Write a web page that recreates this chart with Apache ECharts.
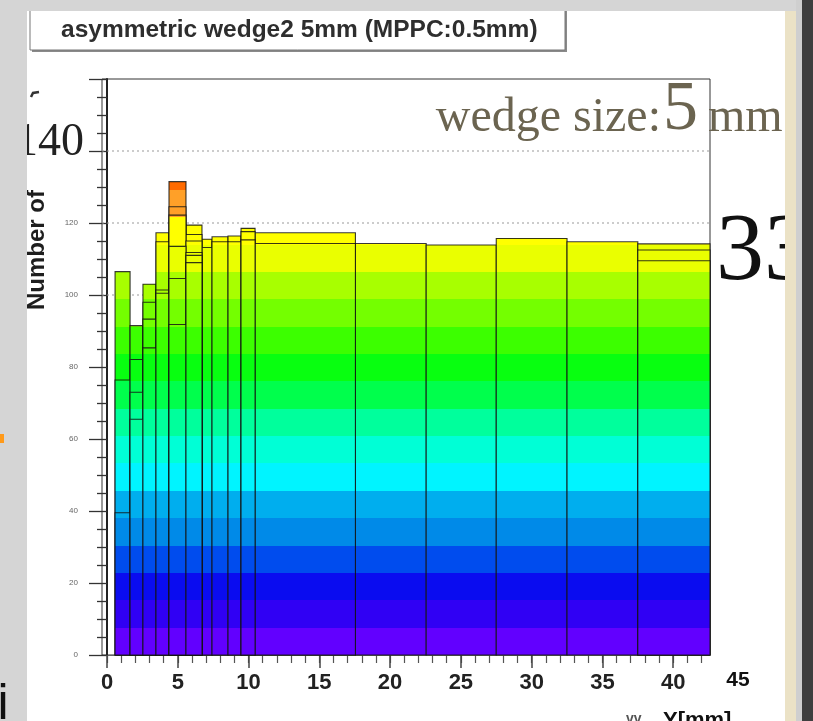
<!DOCTYPE html>
<html>
<head>
<meta charset="utf-8">
<script src="https://cdn.jsdelivr.net/npm/echarts@6/dist/echarts.min.js"></script>
<style>html,body{margin:0;padding:0;background:#fff;}#c{width:813px;height:721px;}</style>
</head>
<body>
<div id="c"></div>
<script>
// ---- data ----
const binLo = [0.57, 1.63, 2.54, 3.46, 4.38, 5.58, 6.71, 7.42, 8.55, 9.47, 10.46, 17.55, 22.55, 27.5, 32.5, 37.5];
const binHi = [1.63, 2.54, 3.46, 4.38, 5.58, 6.71, 7.42, 8.55, 9.47, 10.46, 17.55, 22.55, 27.5, 32.5, 37.5, 42.6];
const histA = [106.5, 91.5, 103, 117.3, 131.5, 119.4, 115.5, 116.2, 116.4, 118.5, 117.3, 114.3, 113.9, 115.7, 114.8, 114.2];
const histB = [76.4, 82.1, 98, 114.8, 124.5, 116.8, 113.2, 114.8, 114.8, 117.6, 114.3, null, null, null, null, 112.5];
const histC = [39.5, 73, 93.3, 101.4, 122.2, 115, null, null, null, 115.3, null, null, null, null, null, 109.5];
const histD = [null, 65.5, 85.3, 100.5, 113.5, 111.8, null, null, null, null, null, null, null, null, null, null];
const histE = [null, null, null, null, 104.6, 111, null, null, null, null, null, null, null, null, null, null];
const histF = [null, null, null, null, 91.8, 109, null, null, null, null, null, null, null, null, null, null];
const xMajorTicks = [0, 5, 10, 15, 20, 25, 30, 35, 40];
const xMinorTicks = [0,1,2,3,4,5,6,7,8,9,10,11,12,13,14,15,16,17,18,19,20,21,22,23,24,25,26,27,28,29,30,31,32,33,34,35,36,37,38,39,40,41,42];
const gridValues = [100, 120, 140];
const titleText = 'asymmetric wedge2 5mm (MPPC:0.5mm)';
const yTitle = 'Number of';

// ---- palette (colour bands in y) ----
const bandStep = 7.6;
const bandColors = ['#6200ff','#3000f4','#0a0cf0','#004cee','#008ae8','#00aeee','#00f4ff','#00ffd6',
  '#00ff9c','#00ff4c','#08ff10','#3cff00','#74ff00','#a8ff00','#eaff00','#ffff00','#ffa028','#ff6a00'];

const xMin = -0.353, xMax = 42.6;
const layers = [histA, histB, histC, histD, histE, histF];

function barRender(params, api) {
  const lo = api.value(0), hi = api.value(1), v = api.value(2);
  const children = [];
  for (let i = 0; i < bandColors.length; i++) {
    const e0 = i * bandStep, e1 = (i + 1) * bandStep;
    if (e0 >= v) break;
    const top = Math.min(e1, v);
    const a = api.coord([lo, e0]), b = api.coord([hi, top]);
    const y0 = Math.round(a[1]), y1 = Math.round(b[1]);
    children.push({type: 'rect', silent: true,
      shape: {x: a[0], y: y1, width: b[0] - a[0], height: y0 - y1},
      style: {fill: bandColors[i]}});
  }
  const p0 = api.coord([lo, 0]), p1 = api.coord([hi, v]);
  children.push({type: 'rect', silent: true,
    shape: {x: p0[0], y: p1[1], width: p1[0] - p0[0], height: p0[1] - p1[1]},
    style: {fill: null, stroke: 'rgba(20,20,20,0.85)', lineWidth: 1.1}});
  return {type: 'group', children: children};
}

function gridRender(params, api) {
  const v = api.value(2);
  const a = api.coord([api.value(0), v]), b = api.coord([api.value(1), v]);
  return {type: 'line', silent: true,
    shape: {x1: a[0], y1: a[1], x2: b[0], y2: b[1]},
    style: {stroke: '#9a9a9a', lineWidth: 1.2, lineDash: [2, 3]}};
}

const series = [{
  type: 'custom', name: 'grid', z: 1, renderItem: gridRender,
  encode: {x: [0, 1], y: 2},
  data: gridValues.map(v => [xMin, xMax, v])
}];
layers.forEach((layer, k) => {
  const data = [];
  layer.forEach((v, i) => { if (v !== null) data.push([binLo[i], binHi[i], v]); });
  series.push({type: 'custom', name: 'h' + k, z: 2 + k, renderItem: barRender,
    encode: {x: [0, 1], y: 2}, data: data});
});

const chart = echarts.init(document.getElementById('c'), null, {renderer: 'canvas'});
const SANS = 'Liberation Sans, Arial, sans-serif';
const SERIF = 'Liberation Serif, Times New Roman, serif';
chart.setOption({
  backgroundColor: '#ffffff',
  animation: false,
  grid: {left: 102, top: 79, width: 608, height: 576, show: true, borderColor: '#333', borderWidth: 1, backgroundColor: 'transparent'},
  xAxis: [{
    type: 'value', min: xMin, max: xMax, position: 'bottom',
    axisLine: {show: true, onZero: false, lineStyle: {color: '#666', width: 1}},
    axisTick: {show: true, customValues: xMinorTicks, length: 8, lineStyle: {color: '#555', width: 1.2}},
    axisLabel: {show: false}, splitLine: {show: false}
  }, {
    type: 'value', min: xMin, max: xMax, position: 'bottom',
    axisLine: {show: false, onZero: false},
    axisTick: {show: true, customValues: xMajorTicks, length: 13, lineStyle: {color: '#444', width: 1.5}},
    axisLabel: {show: true, customValues: xMajorTicks, fontSize: 22, fontWeight: 'bold', color: '#222', fontFamily: SANS, margin: 17},
    splitLine: {show: false}
  }],
  yAxis: {
    type: 'value', min: 0, max: 160, interval: 20,
    axisLine: {show: true, lineStyle: {color: '#222', width: 2}},
    axisTick: {show: true, length: 18, lineStyle: {color: '#333', width: 1.3}},
    minorTick: {show: true, splitNumber: 4, length: 10, lineStyle: {color: '#333', width: 1.3}},
    axisLabel: {fontSize: 8, color: '#666', fontFamily: SANS, margin: 24,
      formatter: v => (v === 140 || v === 160) ? '' : String(v)},
    splitLine: {show: false}
  },
  series: series,
  graphic: [
    // title box
    {type: 'rect', z: 50, shape: {x: 32, y: 10, width: 535, height: 42}, style: {fill: '#8a8a8a'}},
    {type: 'rect', z: 51, shape: {x: 30, y: 8, width: 535, height: 42}, style: {fill: '#fff', stroke: '#777', lineWidth: 1}},
    {type: 'text', z: 52, x: 61, y: 30, style: {text: titleText, font: 'bold 24.5px ' + SANS, fill: '#2e2e2e', textAlign: 'left', textVerticalAlign: 'middle'}},
    // y title
    {type: 'text', z: 52, x: 37, y: 250, rotation: Math.PI / 2, style: {text: yTitle, font: 'bold 24px ' + SANS, fill: '#1e1e1e', textAlign: 'center', textVerticalAlign: 'middle'}},
    // overlaid slide texts
    {type: 'text', z: 52, x: 84, y: 143, style: {text: '140', font: '46px ' + SERIF, fill: '#222', textAlign: 'right', textVerticalAlign: 'middle'}},
    {type: 'text', z: 52, x: 661, y: 118, style: {text: 'wedge size:', font: '48px ' + SERIF, fill: '#6b6450', textAlign: 'right', textVerticalAlign: 'middle'}},
    {type: 'text', z: 52, x: 663, y: 111, style: {text: '5', font: '70px ' + SERIF, fill: '#6b6450', textAlign: 'left', textVerticalAlign: 'middle'}},
    {type: 'text', z: 52, x: 708, y: 118, style: {text: 'mm', font: '48px ' + SERIF, fill: '#6b6450', textAlign: 'left', textVerticalAlign: 'middle'}},
    {type: 'text', z: 52, x: 716, y: 254, style: {text: '33', font: '96px ' + SERIF, fill: '#111', textAlign: 'left', textVerticalAlign: 'middle'}},
    {type: 'text', z: 52, x: 738, y: 680, style: {text: '45', font: 'bold 21px ' + SANS, fill: '#111', textAlign: 'center', textVerticalAlign: 'middle'}},
    {type: 'text', z: 52, x: 663, y: 710, style: {text: 'Y[mm]', font: 'bold 22px ' + SANS, fill: '#111', textAlign: 'left', textVerticalAlign: 'top'}},
    {type: 'text', z: 52, x: 626, y: 712, style: {text: 'vv', font: 'bold 14px ' + SANS, fill: '#555', textAlign: 'left', textVerticalAlign: 'top'}},
    // frame strips
    {type: 'rect', z: 90, shape: {x: 0, y: 0, width: 802, height: 11}, style: {fill: '#d5d5d5'}},
    {type: 'rect', z: 90, shape: {x: 0, y: 0, width: 27, height: 721}, style: {fill: '#d5d5d5'}},
    {type: 'rect', z: 90, shape: {x: 785, y: 11, width: 11, height: 710}, style: {fill: '#ebe2c6'}},
    {type: 'rect', z: 90, shape: {x: 796, y: 0, width: 6, height: 721}, style: {fill: '#cfcfcf'}},
    {type: 'rect', z: 90, shape: {x: 802, y: 0, width: 11, height: 721}, style: {fill: '#3e3e3e'}},
    {type: 'rect', z: 91, shape: {x: 0, y: 434, width: 4, height: 9}, style: {fill: '#ff9a1a'}},
    {type: 'text', z: 91, x: 3, y: 705, style: {text: 'i', font: '50px ' + SANS, fill: '#111', textAlign: 'center', textVerticalAlign: 'middle'}},
    {type: 'polyline', z: 52, shape: {points: [[31, 97], [33, 93], [39, 92]]}, style: {stroke: '#333', lineWidth: 2.5, fill: null}}
  ]
});
</script>
</body>
</html>
